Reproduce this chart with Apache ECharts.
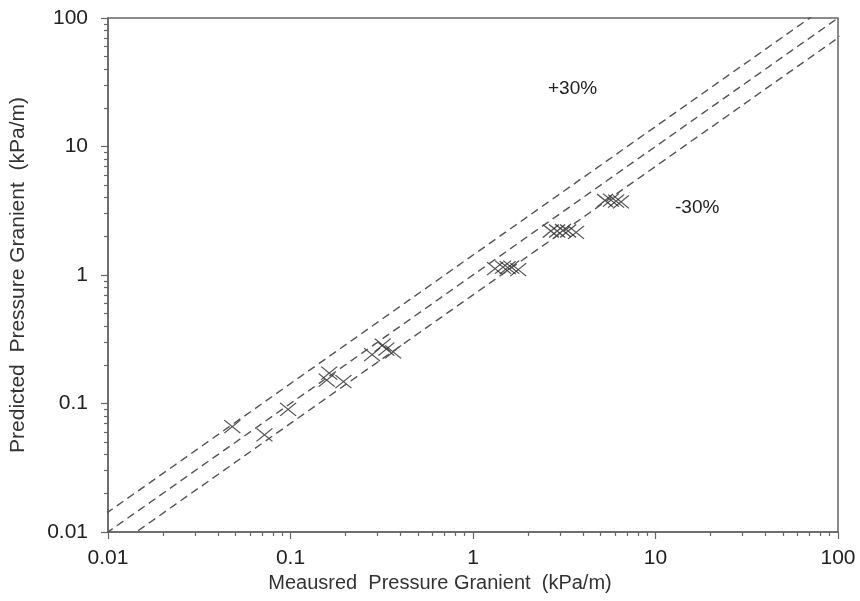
<!DOCTYPE html>
<html>
<head>
<meta charset="utf-8">
<script src="https://cdn.jsdelivr.net/npm/echarts@6/dist/echarts.min.js"></script>
<style>html,body{margin:0;padding:0;background:#fff}#c{width:860px;height:601px}</style>
</head>
<body>
<div id="c"></div>
<script>
var measured = [0.048, 0.072, 0.097, 0.158, 0.163, 0.195, 0.28, 0.32, 0.335, 0.365, 1.32, 1.46, 1.55, 1.62, 1.77, 2.67, 2.89, 3.11, 3.32, 3.67, 5.29, 5.7, 6.08, 6.47];
var predicted = [0.066, 0.057, 0.090, 0.152, 0.172, 0.148, 0.24, 0.285, 0.265, 0.252, 1.12, 1.15, 1.14, 1.15, 1.1, 2.2, 2.2, 2.22, 2.2, 2.15, 3.8, 3.82, 3.75, 3.7];
var refX = [0.001, 1000];
var refFactors = [1 / 0.7, 1, 0.7];
var majorTicks = [0.01, 0.1, 1, 10, 100];
var minorTicks = [];
for (var d = 0.01; d < 100; d *= 10) { for (var k = 2; k <= 9; k++) minorTicks.push(+(d * k).toPrecision(3)); }
var annoTexts = ['+30%', '-30%'];

var chart = echarts.init(document.getElementById('c'));
var axisColor = '#666';
var font = 'Liberation Sans, Arial, sans-serif';

function baseAxis(isX, idx) {
  var a = {
    type: 'log', logBase: 10, min: 0.01, max: 100,
    position: isX ? 'bottom' : 'left',
    splitLine: { show: false },
    axisLine: { show: idx === 0, lineStyle: { color: axisColor, width: 1.5 } },
    axisTick: { show: true, inside: false, length: idx === 0 ? 7 : 4, lineStyle: { color: axisColor, width: 1.2 },
      customValues: idx === 0 ? majorTicks : minorTicks },
    axisLabel: { show: idx === 0, customValues: majorTicks, color: '#222', fontSize: 21, fontFamily: font,
      margin: isX ? 16 : 20, formatter: function (v) { return String(+v.toPrecision(3)); } },
    minorTick: { show: false }
  };
  if (idx === 0) {
    a.name = isX ? 'Meausred  Pressure Granient  (kPa/m)' : 'Predicted  Pressure Granient  (kPa/m)';
    a.nameLocation = 'middle';
    a.nameGap = isX ? 37 : 79;
    a.nameTextStyle = isX
      ? { color: '#333', fontSize: 20, fontFamily: font, padding: [0, 66, 0, 0] }
      : { color: '#333', fontSize: 21, fontFamily: font };
  }
  return a;
}

var series = [];
refFactors.forEach(function (f) {
  series.push({
    type: 'line', xAxisIndex: 0, yAxisIndex: 0, clip: true, symbol: 'none', silent: true,
    data: refX.map(function (x) { return [x, x * f]; }),
    lineStyle: { color: '#555', width: 1.4, type: [8, 5] }
  });
});
series.push({
  type: 'scatter', xAxisIndex: 0, yAxisIndex: 0,
  symbol: 'path://M0,0L10,10M10,0L0,10', symbolSize: [16, 13],
  itemStyle: { color: 'rgba(0,0,0,0)', borderColor: '#2a2a2a', borderWidth: 1.2 },
  data: measured.map(function (x, i) { return [x, predicted[i]]; })
});

chart.setOption({
  animation: false,
  backgroundColor: '#fff',
  grid: { left: 108, right: 22, top: 18, bottom: 69, show: true, borderColor: axisColor, borderWidth: 1.5, containLabel: false },
  xAxis: [baseAxis(true, 0), baseAxis(true, 1)],
  yAxis: [baseAxis(false, 0), baseAxis(false, 1)],
  graphic: [
    { type: 'text', left: 548, top: 79, style: { text: annoTexts[0], fontSize: 19, fontFamily: font, fill: '#222' } },
    { type: 'text', left: 675, top: 198, style: { text: annoTexts[1], fontSize: 19, fontFamily: font, fill: '#222' } }
  ],
  series: series
});
</script>
</body>
</html>
